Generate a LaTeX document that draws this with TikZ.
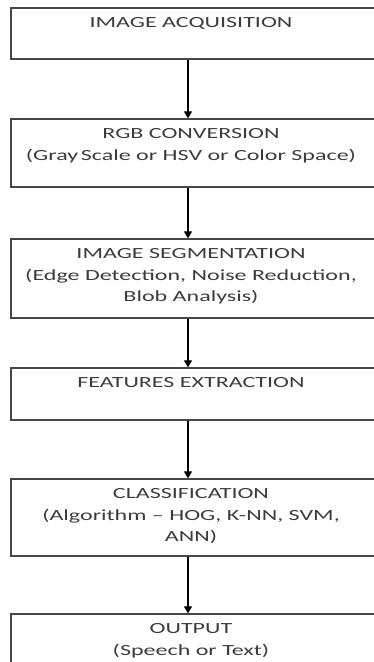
\documentclass[tikz,border=0pt]{standalone}
\usepackage{fontspec}
\setmainfont[FakeStretch=1.55]{Carlito}
\usepackage{xcolor}
\usepackage{tikz}
\usetikzlibrary{arrows.meta,positioning}
\definecolor{figline}{RGB}{70,70,70}
\definecolor{figtext}{RGB}{60,60,60}
\tikzset{
  stage/.style ={draw=figline, line width=1.3pt, minimum width=364pt, inner sep=0pt},
  lab/.style   ={text=figtext, font=\fontsize{15.5}{21.5}\selectfont, align=center, inner sep=0pt},
  flow/.style  ={draw=black, line width=1.2pt, -{Triangle[length=7pt,width=8pt]}},
}

\begin{document}
\begin{tikzpicture}[x=1pt,y=1pt]
  \useasboundingbox (0,0) rectangle (374,-662);
  \clip (0,0) rectangle (374,-662);
  \fill[white] (0,0) rectangle (374,-662);
  % boxes
  \node[stage, minimum height=51pt] (acq) at (193,-33.5) {};
  \node[stage, minimum height=68pt] (rgb) at (193,-153) {};
  \node[stage, minimum height=79pt] (seg) at (193,-278.5) {};
  \node[stage, minimum height=52pt] (feat) at (193,-394) {};
  \node[stage, minimum height=77pt] (cls) at (193,-517.5) {};
  \node[stage, minimum height=76pt] (outp) at (193,-652) {};
  % texts
  \node[lab, below=10pt of acq.north, xshift=-2pt] (acqtxt) {IMAGE ACQUISITION};
  \node[lab, below=10pt of rgb.north, xshift=-2pt] (rgbtxt) {RGB CONVERSION\\(Gray\,Scale or HSV or Color Space)};
  \node[lab, below=10pt of seg.north, xshift=-2pt] (segtxt) {IMAGE SEGMENTATION\\(Edge Detection, Noise Reduction,\\Blob Analysis)};
  \node[lab, below=10pt of feat.north, xshift=-2pt] (feattxt) {FEATURES EXTRACTION};
  \node[lab, below=10pt of cls.north, xshift=-2pt] (clstxt) {CLASSIFICATION\\(Algorithm -- HOG, K-NN, SVM,\\ANN)};
  \node[lab, below=10pt of outp.north, xshift=-2pt] (outptxt) {OUTPUT\\(Speech or Text)};
  % arrows
  \draw[flow] ([xshift=-5pt]acq.south) -- ([xshift=-5pt]rgb.north);
  \draw[flow] ([xshift=-5pt]rgb.south) -- ([xshift=-5pt]seg.north);
  \draw[flow] ([xshift=-5pt]seg.south) -- ([xshift=-5pt]feat.north);
  \draw[flow] ([xshift=-5pt]feat.south) -- ([xshift=-5pt]cls.north);
  \draw[flow] ([xshift=-5pt]cls.south) -- ([xshift=-5pt]outp.north);
\end{tikzpicture}
\end{document}
